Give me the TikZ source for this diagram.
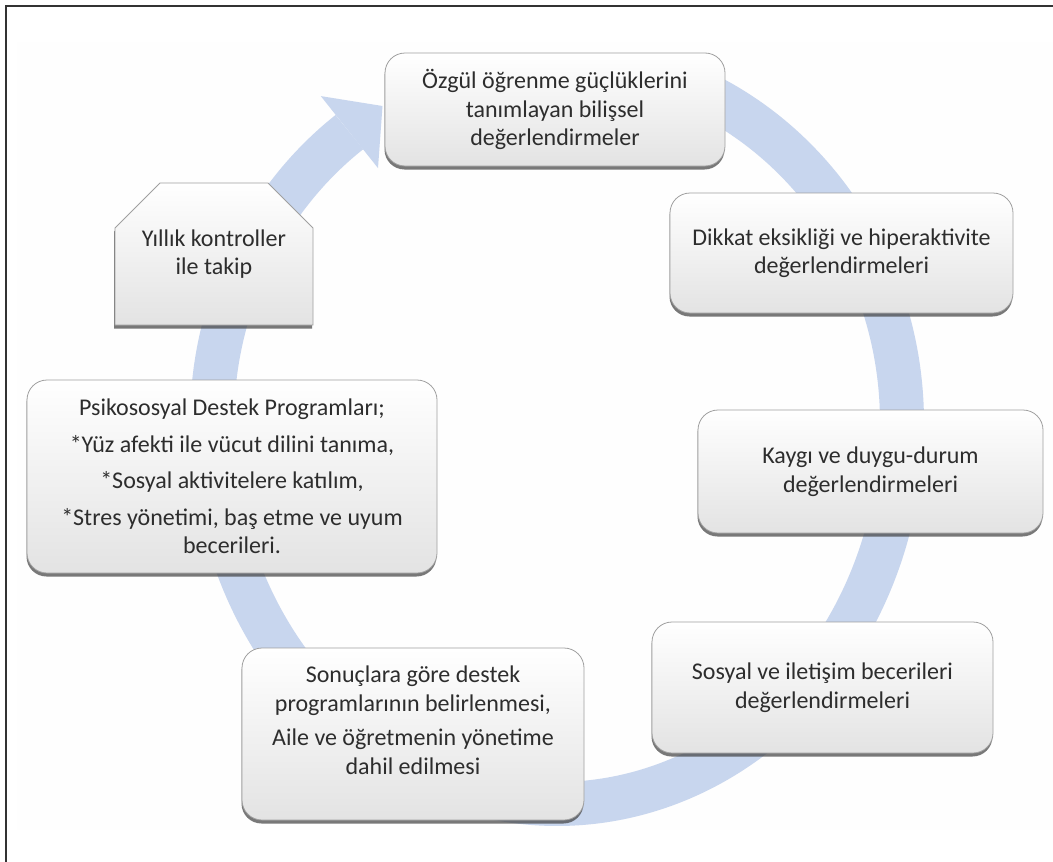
\documentclass[tikz,border=0pt]{standalone}
\usepackage{fontspec}
\setmainfont{Carlito}
\usetikzlibrary{shapes.misc,shadows}
\definecolor{ringblue}{RGB}{200,214,238}
\definecolor{boxline}{RGB}{160,160,160}
\definecolor{txt}{RGB}{45,45,45}
\tikzset{
  boxfont/.style={font=\fontsize{24}{28.5}\selectfont, text=txt, align=center},
  cbox/.style={rectangle, rounded corners=20pt, draw=boxline, line width=0.8pt,
    top color=white, bottom color=black!11, boxfont, inner sep=0pt,
    drop shadow={shadow xshift=-0.5pt, shadow yshift=-3.5pt, fill=black!75, opacity=0.7}},
  snipbox/.style={chamfered rectangle, chamfered rectangle corners={north west,north east},
    chamfered rectangle xsep=18pt, chamfered rectangle ysep=27pt,
    draw=boxline, line width=0.8pt, top color=white, bottom color=black!11,
    boxfont, inner sep=0pt,
    drop shadow={shadow xshift=-1pt, shadow yshift=-3.5pt, fill=black!75, opacity=0.7}},
  ring/.style={draw=ringblue, line width=44pt, line cap=butt},
  ringhead/.style={fill=ringblue, draw=none}
}
\begin{document}
\begin{tikzpicture}[x=1pt,y=-1pt]
\useasboundingbox (0,0) rectangle (1053,862);
\fill[white] (0,0) rectangle (1053,862);
\fill[black!0.4] (17,42) rectangle (1053,830);
% frame (top and left)
\draw[black!80, line width=2pt] (6,862) -- (6,6) -- (1053,6);
% cycle ring
\draw[ring] plot[domain=0:297, samples=200, smooth]
  ({557+345*cos(64-\x)}, {422-(sin(64-\x)>0 ? 363 : 382)*sin(64-\x)});
\coordinate (hb1) at (320.8,96.1);
\coordinate (hb2) at (378.0,168.1);
\coordinate (htip) at (382.5,106.0);
\fill[ringhead] (hb1) -- (htip) -- (hb2) -- cycle;
% boxes
\node[cbox, minimum width=340pt, minimum height=113pt] (top) at (555,109.5)
  {Özgül öğrenme güçlüklerini\\tanımlayan bilişsel\\değerlendirmeler};
\node[cbox, minimum width=343pt, minimum height=120pt] (dikkat) at (841.5,253)
  {Dikkat eksikliği ve hiperaktivite\\değerlendirmeleri};
\node[cbox, minimum width=345pt, minimum height=123pt] (kaygi) at (870.5,471.5)
  {Kaygı ve duygu-durum\\değerlendirmeleri};
\node[cbox, minimum width=341pt, minimum height=131pt] (sosyal) at (822.5,687.5)
  {Sosyal ve iletişim becerileri\\değerlendirmeleri};
\node[cbox, minimum width=342pt, minimum height=172pt] (sonuc) at (413,734) {};
\node[boxfont, inner sep=0pt] (sonuctext) at (413,720)
  {Sonuçlara göre destek\\programlarının belirlenmesi,\\[6pt]Aile ve öğretmenin yönetime\\dahil edilmesi};
\node[cbox, minimum width=410pt, minimum height=193pt] (psiko) at (232,476.5)
  {Psikososyal Destek Programları;\\[8pt]*Yüz afekti ile vücut dilini tanıma,\\[8pt]*Sosyal aktivitelere katılım,\\[8pt]*Stres yönetimi, baş etme ve uyum\\becerileri.};
\node[snipbox, minimum width=198pt, minimum height=142pt] (yillik) at (214,254)
  {Yıllık kontroller\\ile takip};
\end{tikzpicture}
\end{document}
